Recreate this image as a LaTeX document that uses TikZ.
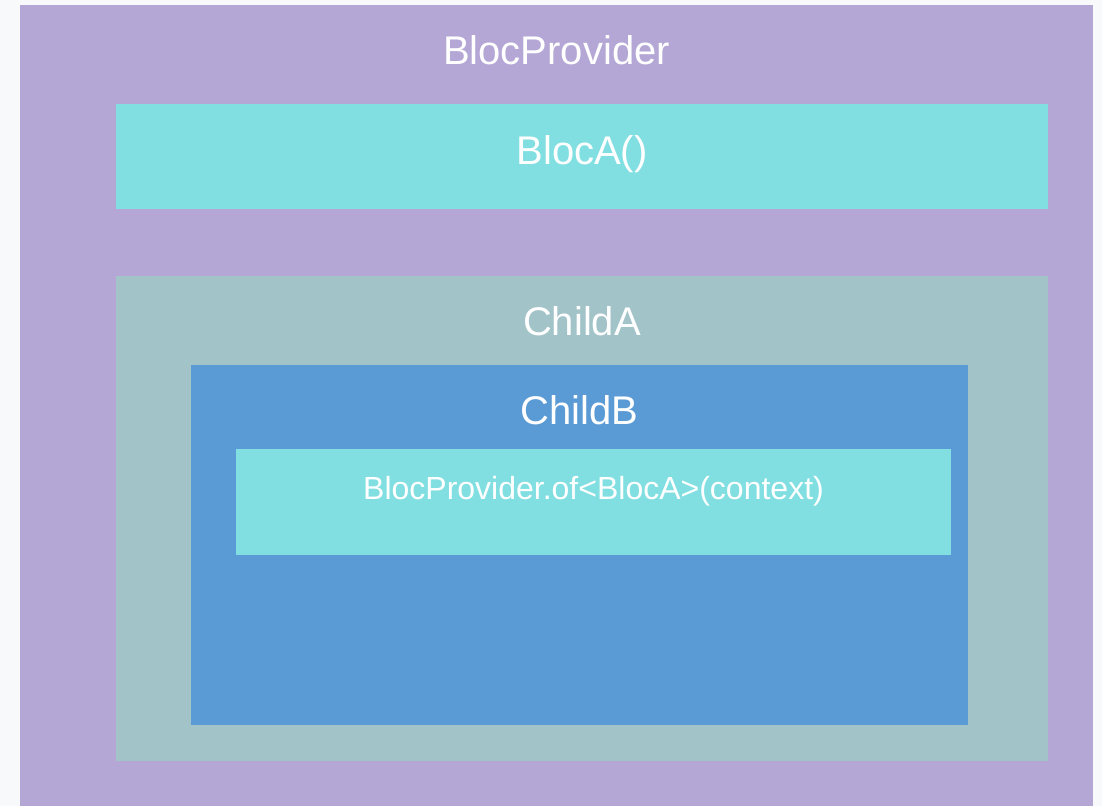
\documentclass[tikz,border=0pt]{standalone}
\usepackage{fontspec}
\setmainfont{Liberation Sans}
\usetikzlibrary{positioning}

\definecolor{pagebg}{HTML}{F8F9FB}
\definecolor{provcol}{HTML}{B4A7D6}
\definecolor{bloccol}{HTML}{81DFE2}
\definecolor{childacol}{HTML}{A2C3C8}
\definecolor{childbcol}{HTML}{5B9BD5}

\tikzset{
	title/.style={text=white, anchor=base, inner sep=0pt, font=\fontsize{30}{36}\selectfont},
	small title/.style={title, font=\fontsize{24}{29}\selectfont}
}

\begin{document}
\begin{tikzpicture}[x=0.75pt, y=-0.75pt]
	\fill[pagebg] (0, 0) rectangle (1102, 806);
	\useasboundingbox (0, 0) rectangle (1102, 806);

	% boxes
	\fill[provcol] (20, 5) rectangle (1093, 806);
	\fill[bloccol] (116, 104) rectangle (1048, 209);
	\fill[childacol] (116, 276) rectangle (1048, 761);
	\fill[childbcol] (191, 365) rectangle (968, 725);
	\fill[bloccol] (236, 449) rectangle (951, 555);

	% labels
	\node[title] (prov) at (556.5, 65) {BlocProvider};
	\node[title] (bloca) at (582, 165) {BlocA()};
	\node[title] (childa) at (582, 335) {ChildA};
	\node[title] (childb) at (579.5, 424) {ChildB};
	\node[small title] (lookup) at (593.5, 499) {BlocProvider.of<BlocA>(context)};
\end{tikzpicture}
\end{document}
